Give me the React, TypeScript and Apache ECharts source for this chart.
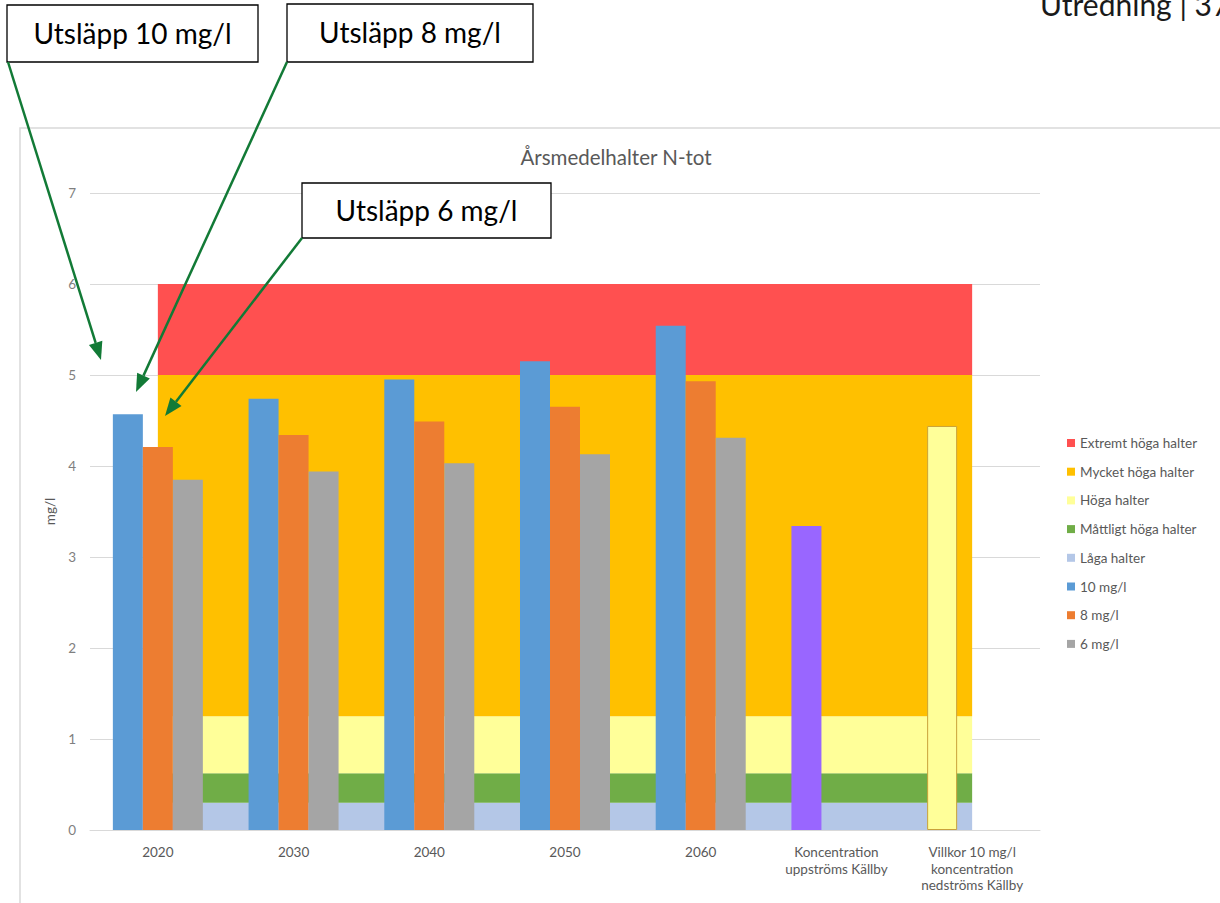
import React, { useEffect, useRef } from "react";
import * as echarts from "echarts";

const categories = [
  "2020",
  "2030",
  "2040",
  "2050",
  "2060",
  "Koncentration\nuppströms Källby",
  "Villkor 10 mg/l\nkoncentration\nnedströms Källby",
];

// Class bands (stacked thickness, mg/l)
const bandNames = [
  "Låga halter",
  "Måttligt höga halter",
  "Höga halter",
  "Mycket höga halter",
  "Extremt höga halter",
];
const bandThickness = [0.3, 0.325, 0.625, 3.75, 1.0];
const bandColors = ["#B4C7E7", "#70AD47", "#FFFF99", "#FFC000", "#FF5050"];

const series10 = [4.57, 4.74, 4.95, 5.15, 5.54, 3.34, 4.44];
const series8 = [4.21, 4.34, 4.49, 4.65, 4.93, null, null];
const series6 = [3.85, 3.94, 4.03, 4.13, 4.31, null, null];

const legendOrder = [
  "Extremt höga halter",
  "Mycket höga halter",
  "Höga halter",
  "Måttligt höga halter",
  "Låga halter",
  "10 mg/l",
  "8 mg/l",
  "6 mg/l",
];

const yTicks = [0, 7, 1]; // min, max, interval

const FONT = "Lato, 'Open Sans', sans-serif";
const GREEN = "#127A36";

function arrow(x1: number, y1: number, x2: number, y2: number) {
  const dx = x2 - x1;
  const dy = y2 - y1;
  const L = Math.hypot(dx, dy);
  const ux = dx / L;
  const uy = dy / L;
  const h = 18;
  const w = 7;
  const bx = x2 - ux * h;
  const by = y2 - uy * h;
  const px = -uy;
  const py = ux;
  return [
    {
      type: "line",
      z: 100,
      shape: { x1, y1, x2: bx, y2: by },
      style: { stroke: GREEN, lineWidth: 2.5 },
    },
    {
      type: "polygon",
      z: 100,
      shape: {
        points: [
          [x2, y2],
          [bx + px * w, by + py * w],
          [bx - px * w, by - py * w],
        ],
      },
      style: { fill: GREEN },
    },
  ];
}

function box(x: number, y: number, w: number, h: number, label: string) {
  return [
    {
      type: "rect",
      z: 100,
      shape: { x, y, width: w, height: h },
      style: { fill: "#fff", stroke: "#000", lineWidth: 1.3 },
    },
    {
      type: "text",
      z: 101,
      x: x + w / 2,
      y: y + h / 2 - 1,
      style: {
        text: label,
        fill: "#000",
        font: `28px ${FONT}`,
        align: "center",
        verticalAlign: "middle",
      },
    },
  ];
}

export default function App() {
  const ref = useRef<HTMLDivElement>(null);
  useEffect(() => {
    if (!ref.current) return;
    const chart = echarts.init(ref.current, null, { renderer: "svg" });

    const bandSeries = bandNames.map((name, i) => ({
      name,
      type: "line",
      stack: "bands",
      data: categories.map(() => bandThickness[i]),
      symbol: "none",
      lineStyle: { width: 0 },
      itemStyle: { color: bandColors[i] },
      areaStyle: { color: bandColors[i], opacity: 1 },
      emphasis: { disabled: true },
      z: 1,
    }));

    const barBase = {
      type: "bar",
      barWidth: 30,
      barGap: "0%",
      z: 3,
    };

    const option: any = {
      animation: false,
      textStyle: { fontFamily: FONT },
      title: {
        text: "Årsmedelhalter N-tot",
        left: 616,
        top: 146,
        padding: 0,
        textAlign: "center",
        textStyle: {
          fontSize: 20.5,
          fontWeight: "normal",
          color: "#595959",
          fontFamily: FONT,
        },
      },
      grid: { left: 90, right: 180, top: 193, bottom: 73 },
      legend: {
        orient: "vertical",
        left: 1062,
        top: 430,
        itemWidth: 8,
        itemHeight: 8,
        itemGap: 12.7,
        icon: "rect",
        data: legendOrder,
        textStyle: {
          fontSize: 13.5,
          color: "#595959",
          lineHeight: 16,
          fontFamily: FONT,
        },
      },
      xAxis: {
        type: "category",
        data: categories,
        axisTick: { show: false },
        axisLine: { lineStyle: { color: "#d9d9d9" } },
        axisLabel: {
          color: "#595959",
          fontSize: 13.5,
          lineHeight: 16.5,
          margin: 14,
          interval: 0,
          fontFamily: FONT,
        },
      },
      yAxis: {
        type: "value",
        min: yTicks[0],
        max: yTicks[1],
        interval: yTicks[2],
        name: "mg/l",
        nameLocation: "middle",
        nameGap: 30,
        nameRotate: 90,
        nameTextStyle: { color: "#595959", fontSize: 13.5, fontFamily: FONT },
        axisLine: { show: false },
        axisTick: { show: false },
        axisLabel: { color: "#7f7f7f", fontSize: 13.5, margin: 14, fontFamily: FONT },
        splitLine: { lineStyle: { color: "#d9d9d9" } },
      },
      series: [
        ...bandSeries,
        {
          ...barBase,
          name: "10 mg/l",
          itemStyle: { color: "#5B9BD5" },
          data: series10.map((v, i) => {
            if (i === 5) return { value: v, itemStyle: { color: "#9966FF" } };
            if (i === 6)
              return {
                value: v,
                itemStyle: { color: "#FFFF99", borderColor: "#C9A13A", borderWidth: 1 },
              };
            return v;
          }),
        },
        { ...barBase, name: "8 mg/l", itemStyle: { color: "#ED7D31" }, data: series8 },
        { ...barBase, name: "6 mg/l", itemStyle: { color: "#A5A5A5" }, data: series6 },
      ],
      graphic: [
        // chart frame
        {
          type: "polyline",
          z: 50,
          shape: { points: [[20, 903], [20, 128], [1220, 128]] },
          style: { stroke: "#d9d9d9", lineWidth: 1.5, fill: "none" },
        },
        {
          type: "text",
          z: 100,
          x: 1040,
          y: 4,
          style: {
            text: "Utredning | 37",
            fill: "#1a1a1a",
            font: `30px ${FONT}`,
            align: "left",
            verticalAlign: "middle",
          },
        },
        ...box(7, 5, 251, 57, "Utsläpp 10 mg/l"),
        ...box(287, 4, 246, 58, "Utsläpp 8 mg/l"),
        ...box(302, 183, 249, 55, "Utsläpp 6 mg/l"),
        ...arrow(8, 62, 101, 360),
        ...arrow(287, 62, 136, 392),
        ...arrow(302, 238, 165, 416),
      ],
    };

    chart.setOption(option);
    return () => chart.dispose();
  }, []);

  return (
    <div
      ref={ref}
      style={{ position: "absolute", left: 0, top: 0, width: 1220, height: 903, background: "#fff" }}
    />
  );
}
